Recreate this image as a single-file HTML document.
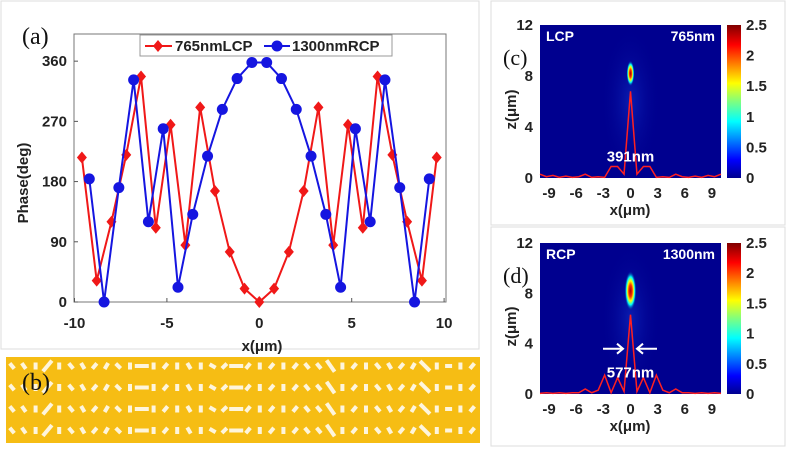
<!DOCTYPE html>
<html><head><meta charset="utf-8"><style>
body{margin:0;background:#fff;}
svg{display:block;font-family:"Liberation Sans",sans-serif;}
.t{font-weight:bold;font-size:15px;fill:#222;}
.s{font-weight:bold;font-size:14px;fill:#222;}
</style></head><body>
<svg id="fig" width="787" height="452" viewBox="0 0 787 452">
<defs>
<linearGradient id="jet" x1="0" y1="1" x2="0" y2="0">
<stop offset="0" stop-color="#00008f"/><stop offset="0.12" stop-color="#0000ff"/><stop offset="0.37" stop-color="#00ffff"/><stop offset="0.5" stop-color="#7fff7f"/><stop offset="0.62" stop-color="#ffff00"/><stop offset="0.87" stop-color="#ff0000"/><stop offset="1" stop-color="#800000"/>
</linearGradient>
<radialGradient id="spot"><stop offset="0" stop-color="#a00000"/><stop offset="0.3" stop-color="#ff3000"/><stop offset="0.5" stop-color="#ffff00"/><stop offset="0.7" stop-color="#00ffff"/><stop offset="1" stop-color="#00008f" stop-opacity="0"/></radialGradient>
<radialGradient id="glow"><stop offset="0" stop-color="#2060ff" stop-opacity="0.3"/><stop offset="1" stop-color="#00008f" stop-opacity="0"/></radialGradient>
</defs>
<rect x="1" y="1" width="478" height="348" fill="none" stroke="#ddd"/>
<rect x="491" y="1" width="294" height="224" fill="none" stroke="#ddd"/>
<rect x="491" y="227" width="294" height="219" fill="none" stroke="#ddd"/>
<g id="chartA"></g>
<g id="strip"></g>
<g id="heat"></g>
</svg>
<script>
const NS="http://www.w3.org/2000/svg";
const xTicks=[-10,-5,0,5,10];
const yTicks=[0,90,180,270,360];
const redX=[-9.6,-8.8,-8.0,-7.2,-6.4,-5.6,-4.8,-4.0,-3.2,-2.4,-1.6,-0.8,0,0.8,1.6,2.4,3.2,4.0,4.8,5.6,6.4,7.2,8.0,8.8,9.6];
const redY=[216,32,120,220,337,111,265,85,291,166,75,20,0,20,75,166,291,85,265,111,337,220,120,32,216];
const blueX=[-9.2,-8.4,-7.6,-6.8,-6.0,-5.2,-4.4,-3.6,-2.8,-2.0,-1.2,-0.4,0.4,1.2,2.0,2.8,3.6,4.4,5.2,6.0,6.8,7.6,8.4,9.2];
const blueY=[184,0,171,332,120,259,22,131,218,288,334,358,358,334,288,218,131,22,259,120,332,171,0,184];
const mapXTicks=[-9,-6,-3,0,3,6,9];
const mapZTicks=[0,4,8,12];
const cbTicks=[0,0.5,1,1.5,2,2.5];
const profC=[0.3,0.1,0.2,0.05,0.15,0.05,0.1,0.3,0.05,0.1,0.05,0.9,0.9,0.3,6.8,0.3,0.9,0.9,0.05,0.1,0.05,0.3,0.1,0.05,0.15,0.05,0.2,0.1,0.3];
const profD=[0.05,0.1,0.05,0.1,0.05,0.1,0.1,0.4,0.1,0.3,1.5,0.1,1.3,0.2,6.3,0.2,1.3,0.1,1.5,0.3,0.1,0.4,0.1,0.1,0.05,0.1,0.05,0.1,0.05];
const X=v=>259.3+v*18.48, Y=p=>302-p*0.669;
function mk(tag,attrs,parent,txt){const e=document.createElementNS(NS,tag);for(const k in attrs)e.setAttribute(k,attrs[k]);if(txt!==undefined)e.textContent=txt;parent.appendChild(e);return e;}
const A=document.getElementById('chartA');
let e=mk('rect',{x:74,y:34,width:372,height:268,fill:'#fff',stroke:'#777'},A);


xTicks.forEach(v=>{mk('line',{x1:X(v),x2:X(v),y1:302,y2:298,stroke:'#555'},A);
 let t=mk('text',{x:X(v),y:328,'text-anchor':'middle',class:'t'},A,String(v));
 
 });
yTicks.forEach(v=>{mk('line',{x1:74,x2:78,y1:Y(v),y2:Y(v),stroke:'#555'},A);
 let t=mk('text',{x:67,y:Y(v)+5,'text-anchor':'end',class:'t'},A,String(v));
 
 });
e=mk('text',{x:262,y:351,'text-anchor':'middle',class:'t','font-size':'16'},A,'x(μm)');


e=mk('text',{x:0,y:0,transform:'translate(28,183) rotate(-90)','text-anchor':'middle',class:'t','font-size':'16'},A,'Phase(deg)');


e=mk('text',{x:22,y:44,'font-family':'Liberation Serif,serif','font-size':'24',fill:'#111'},A,'(a)');


function series(xs,ys,col,shape,name){
 const g=mk('g',{},A);
 
 
 mk('polyline',{points:xs.map((x,i)=>X(x)+','+Y(ys[i])).join(' '),fill:'none',stroke:col,'stroke-width':2},g);
 xs.forEach((x,i)=>{let m;
  if(shape==='d')m=mk('polygon',{points:`${X(x)},${Y(ys[i])-6} ${X(x)+5},${Y(ys[i])} ${X(x)},${Y(ys[i])+6} ${X(x)-5},${Y(ys[i])}`,fill:col},g);
  else m=mk('circle',{cx:X(x),cy:Y(ys[i]),r:5.5,fill:col},g);
  
  });
}
series(redX,redY,'#f01818','d','series-765nm-lcp');
series(blueX,blueY,'#1515e0','c','series-1300nm-rcp');
const L=mk('g',{},A);


mk('rect',{x:140,y:35,width:252,height:21,fill:'#fff',stroke:'#999'},L);
mk('line',{x1:145,x2:172,y1:46,y2:46,stroke:'#f01818','stroke-width':2},L);
mk('polygon',{points:'158,40 163,46 158,52 153,46',fill:'#f01818'},L);
mk('text',{x:175,y:51,class:'t'},L,'765nmLCP');
mk('line',{x1:264,x2:290,y1:46,y2:46,stroke:'#1515e0','stroke-width':2},L);
mk('circle',{cx:277,cy:46,r:5.5,fill:'#1515e0'},L);
mk('text',{x:292,y:51,class:'t'},L,'1300nmRCP');
// strip
const S=document.getElementById('strip');
mk('rect',{x:6,y:357,width:474,height:86,fill:'#f6bd14'},S);
const angles=[-40,-35,0,40,0,-40,-30,40,30,-45,0,90,0,40,0,-30,0,-60,45,90,40,0,40,0,40,-40];
for(let r=0;r<4;r++)for(let i=0;i<40;i++){const cx=12+i*11.8,cy=366+r*21.5,a=angles[i%angles.length];
 const h=(i%8===3)?14:7;
 mk('rect',{x:cx-2,y:cy-h/2,width:4,height:h,fill:'#fff',opacity:0.85,transform:`rotate(${a} ${cx} ${cy})`},S);}
e=mk('text',{x:22,y:390,'font-family':'Liberation Serif,serif','font-size':'24',fill:'#111'},S,'(b)');


// heat maps
const H=document.getElementById('heat');
function panel(y0,y1,lab,pol,wl,prof,wide,name){
 const g=mk('g',{},H);
 
 
 const x0=540,x1=721,MX=v=>x0+(v+10)/20*(x1-x0),MZ=z=>y1-z/12*(y1-y0);
 mk('rect',{x:x0,y:y0,width:x1-x0,height:y1-y0,fill:'#00008f'},g);
 mk('ellipse',{cx:MX(0),cy:MZ(6),rx:30,ry:(y1-y0)*0.5,fill:'url(#glow)'},g);
 mk('ellipse',{cx:MX(0),cy:MZ(8.2),rx:wide?6:4,ry:wide?20:13,fill:'url(#spot)'},g);
 mk('polyline',{points:prof.map((p,i)=>MX(-10+i*20/(prof.length-1))+','+MZ(p)).join(' '),fill:'none',stroke:'#ff2020','stroke-width':1.5},g);
 mk('text',{x:x0+6,y:y0+16,class:'s',style:'fill:#fff'},g,pol);
 mk('text',{x:x1-6,y:y0+16,class:'s','text-anchor':'end',style:'fill:#fff'},g,wl);
 mapZTicks.forEach(z=>mk('text',{x:533,y:MZ(z)+5,class:'t','text-anchor':'end'},g,String(z)));
 mapXTicks.forEach(v=>mk('text',{x:MX(v),y:y1+20,class:'t','text-anchor':'middle'},g,String(v)));
 mk('text',{x:630,y:y1+37,class:'t','text-anchor':'middle','font-size':'16'},g,'x(μm)');
 mk('text',{x:0,y:0,transform:`translate(516,${(y0+y1)/2+8}) rotate(-90)`,class:'t','text-anchor':'middle','font-size':'16'},g,'z(μm)');
 mk('text',{x:503,y:y0+40,'font-family':'Liberation Serif,serif','font-size':'22',fill:'#111'},g,lab);
 mk('rect',{x:727,y:y0,width:14,height:y1-y0,fill:'url(#jet)'},g);
 cbTicks.forEach(c=>mk('text',{x:746,y:y1-c/2.5*(y1-y0)+5,class:'t'},g,String(c)));
 return {MX,MZ,g};
}
const c=panel(25,178,'(c)','LCP','765nm',profC,false,'map-lcp-765nm');
mk('text',{x:c.MX(0),y:c.MZ(1.3),class:'t','text-anchor':'middle',style:'fill:#fff'},c.g,'391nm');
const d=panel(243,394,'(d)','RCP','1300nm',profD,true,'map-rcp-1300nm');
mk('text',{x:d.MX(0),y:d.MZ(1.3),class:'t','text-anchor':'middle',style:'fill:#fff'},d.g,'577nm');
mk('path',{d:`M603,${d.MZ(3.6)}h20m-6,-5l6,5l-6,5M657,${d.MZ(3.6)}h-20m6,-5l-6,5l6,5`,stroke:'#fff','stroke-width':2,fill:'none'},d.g);
</script>
</body></html>
